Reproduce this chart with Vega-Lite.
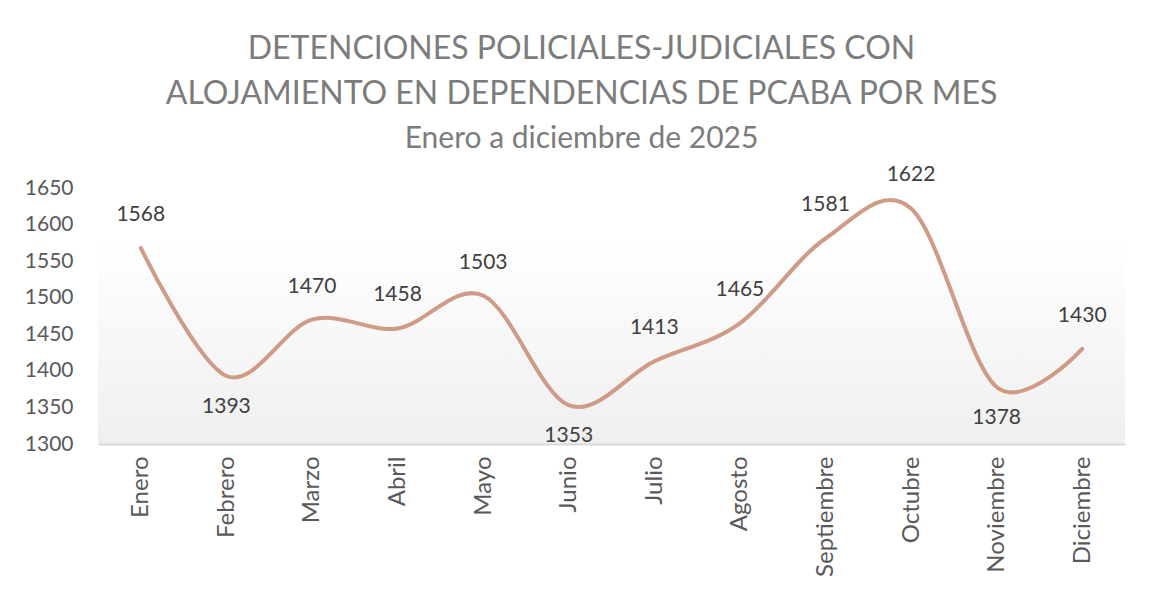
{
  "$schema": "https://vega.github.io/schema/vega-lite/v6.json",
  "width": 1027,
  "height": 256,
  "autosize": {"type": "none"},
  "padding": {"left": 98, "top": 188, "right": 27, "bottom": 146},
  "background": "#ffffff",
  "title": {
    "text": ["DETENCIONES POLICIALES-JUDICIALES CON", "ALOJAMIENTO EN DEPENDENCIAS DE PCABA POR MES"],
    "subtitle": "Enero a diciembre de 2025",
    "anchor": "middle",
    "dx": -30,
    "font": "Lato",
    "fontSize": 32,
    "fontWeight": "normal",
    "lineHeight": 45,
    "color": "#7c7c7c",
    "subtitleFont": "Lato",
    "subtitleFontSize": 30,
    "subtitleFontWeight": "normal",
    "subtitleColor": "#7c7c7c",
    "subtitlePadding": 13,
    "offset": 9
  },
  "config": {
    "view": {
      "stroke": null,
      "fill": {
        "gradient": "linear",
        "x1": 0, "y1": 0, "x2": 0, "y2": 1,
        "stops": [
          {"offset": 0, "color": "#ffffff"},
          {"offset": 0.2, "color": "#ffffff"},
          {"offset": 1, "color": "#efefef"}
        ]
      }
    }
  },
  "data": {
    "values": [
      {"mes": "Enero", "valor": 1568},
      {"mes": "Febrero", "valor": 1393},
      {"mes": "Marzo", "valor": 1470},
      {"mes": "Abril", "valor": 1458},
      {"mes": "Mayo", "valor": 1503},
      {"mes": "Junio", "valor": 1353},
      {"mes": "Julio", "valor": 1413},
      {"mes": "Agosto", "valor": 1465},
      {"mes": "Septiembre", "valor": 1581},
      {"mes": "Octubre", "valor": 1622},
      {"mes": "Noviembre", "valor": 1378},
      {"mes": "Diciembre", "valor": 1430}
    ]
  },
  "encoding": {
    "x": {
      "field": "mes",
      "type": "nominal",
      "sort": null,
      "scale": {"type": "point", "padding": 0.5},
      "axis": {
        "title": null,
        "labelAngle": 270,
        "labelFont": "Lato",
        "labelFontSize": 24,
        "labelColor": "#595959",
        "labelPadding": 12,
        "ticks": false,
        "domainColor": "#d9d9d9",
        "domainWidth": 2,
        "grid": false
      }
    },
    "y": {
      "field": "valor",
      "type": "quantitative",
      "scale": {"domain": [1300, 1650], "zero": false, "nice": false},
      "axis": {
        "title": null,
        "format": "d",
        "values": [1300, 1350, 1400, 1450, 1500, 1550, 1600, 1650],
        "labelFont": "Lato",
        "labelFontSize": 21,
        "labelColor": "#595959",
        "labelPadding": 25,
        "ticks": false,
        "domain": false,
        "grid": false
      }
    }
  },
  "layer": [
    {
      "mark": {"type": "line", "interpolate": "cardinal", "color": "#cf9a86", "strokeWidth": 4, "strokeCap": "round", "clip": false}
    },
    {
      "transform": [{"filter": "indexof(['Febrero','Junio','Noviembre'], datum.mes) < 0"}],
      "mark": {"type": "text", "font": "Lato", "fontSize": 21, "color": "#404040", "baseline": "middle", "dy": -33},
      "encoding": {"text": {"field": "valor", "type": "quantitative", "format": "d"}}
    },
    {
      "transform": [{"filter": "indexof(['Febrero','Junio','Noviembre'], datum.mes) >= 0"}],
      "mark": {"type": "text", "font": "Lato", "fontSize": 21, "color": "#404040", "baseline": "middle", "dy": 31},
      "encoding": {"text": {"field": "valor", "type": "quantitative", "format": "d"}}
    }
  ]
}
